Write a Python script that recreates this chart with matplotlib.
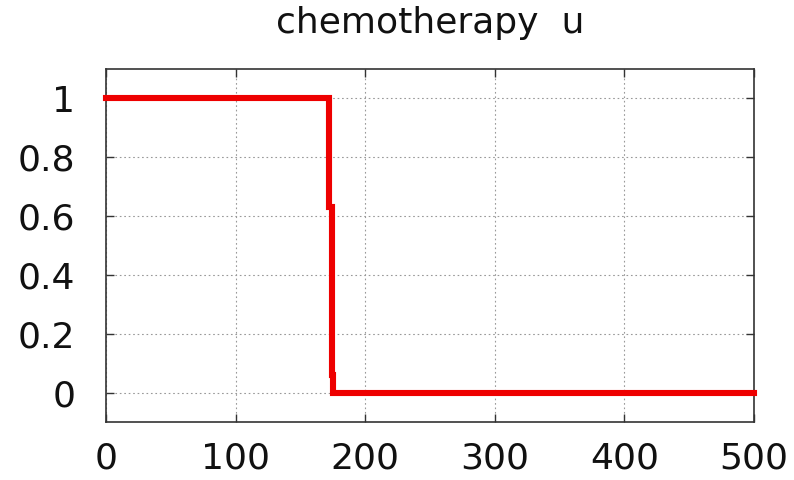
import matplotlib
matplotlib.use("Agg")
import matplotlib.pyplot as plt

# control u(t): bang-bang switch around t ~ 173
t = [0, 172, 172, 174, 174, 175.5, 175.5, 500]
u = [1, 1, 0.63, 0.63, 0.06, 0.06, 0, 0]

xticks = [0, 100, 200, 300, 400, 500]
yticks = [0, 0.2, 0.4, 0.6, 0.8, 1]
ylabels = ["0", "0.2", "0.4", "0.6", "0.8", "1"]

fig = plt.figure(figsize=(7.94, 4.8), dpi=100)
ax = fig.add_axes([106 / 794, 1 - 422 / 480, 648 / 794, 353 / 480])

ax.plot(t, u, color="#ee0000", lw=4.4, solid_joinstyle="miter", clip_on=False, zorder=3)

ax.set_xlim(0, 500)
ax.set_ylim(-0.1, 1.1)
ax.set_xticks(xticks)
ax.set_yticks(yticks)
ax.set_yticklabels(ylabels)
ax.grid(True, color="#999999", ls=(0, (1.5, 2.5)), lw=0.8)
ax.tick_params(direction="in", top=True, right=True, length=6, width=1,
               labelsize=26, color="#333333", labelcolor="#111111")
ax.tick_params(axis="y", pad=22)
ax.tick_params(axis="x", pad=14)
for s in ax.spines.values():
    s.set_color("#333333")
    s.set_linewidth(1.2)

fig.text(430 / 794, 1 - 23 / 480, "chemotherapy  u", ha="center", va="center",
         fontsize=26, color="#111111")

fig.savefig("out.png", dpi=100)
